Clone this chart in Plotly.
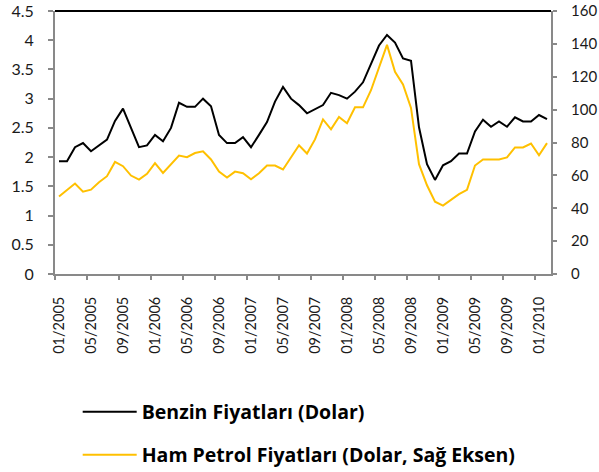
import plotly.graph_objects as go

months = [f"{m:02d}/{y}" for y in range(2005, 2011) for m in range(1, 13)][:62]

benzin = [1.93, 1.93, 2.17, 2.24, 2.10, 2.20, 2.30, 2.62, 2.83, 2.50,
          2.17, 2.20, 2.38, 2.27, 2.50, 2.93, 2.86, 2.86, 3.00, 2.87,
          2.38, 2.24, 2.24, 2.34, 2.17, 2.38, 2.60, 2.95, 3.20, 3.00,
          2.89, 2.75, 2.82, 2.89, 3.10, 3.06, 3.00, 3.12, 3.28, 3.58,
          3.91, 4.09, 3.96, 3.69, 3.65, 2.51, 1.88, 1.61, 1.86, 1.93,
          2.06, 2.06, 2.44, 2.64, 2.52, 2.61, 2.52, 2.68, 2.61, 2.61,
          2.72, 2.65]

petrol = [47.2, 51.3, 55.0, 50.1, 51.3, 55.8, 59.5, 68.2, 65.6, 59.9,
          57.4, 60.9, 67.4, 61.5, 66.6, 72.1, 71.1, 73.6, 74.6, 69.7,
          62.3, 58.7, 62.3, 61.3, 57.6, 61.3, 66.0, 66.0, 63.6, 70.7,
          78.3, 73.3, 81.9, 94.0, 88.0, 95.6, 91.7, 101.4, 101.4, 111.8,
          125.9, 139.4, 123.0, 115.3, 101.0, 66.8, 54.0, 44.0, 41.6, 45.2,
          48.6, 51.2, 66.0, 69.7, 69.7, 69.7, 70.9, 77.0, 77.0, 79.4,
          72.2, 79.6]

left_ticks = [0, 0.5, 1, 1.5, 2, 2.5, 3, 3.5, 4, 4.5]
left_labels = ["0", "0.5", "1", "1.5", "2", "2.5", "3", "3.5", "4", "4.5"]
right_ticks = [0, 20, 40, 60, 80, 100, 120, 140, 160]

idx = list(range(len(months)))
label_idx = idx[::4]
label_text = [months[i] for i in label_idx]

AX = "#898989"
FONT = "Lato"
LEGFONT = dict(family="Open Sans", size=19.5, color="#000000", weight="bold")

fig = go.Figure()
fig.add_trace(go.Scatter(x=idx, y=benzin, mode="lines", name="Benzin Fiyatları (Dolar)",
                         line=dict(color="#000000", width=2), legend="legend"))
fig.add_trace(go.Scatter(x=idx, y=petrol, mode="lines", name="Ham Petrol Fiyatları (Dolar, Sağ Eksen)",
                         line=dict(color="#FFC000", width=2), yaxis="y2", legend="legend2"))

fig.update_layout(
    width=599, height=472,
    margin=dict(l=55, r=48, t=11, b=198, autoexpand=False),
    paper_bgcolor="white", plot_bgcolor="white",
    font=dict(family=FONT, size=16, color="#1a1a1a"),
    xaxis=dict(range=[-0.5, 61.5], tickmode="array", tickvals=label_idx, ticktext=label_text,
               tickangle=-90, ticks="", showgrid=False, zeroline=False,
               showline=True, linecolor=AX, linewidth=2, ticklabelstandoff=15,
               minor=dict(tickmode="linear", tick0=-0.5, dtick=4, ticks="outside",
                          ticklen=4, tickcolor=AX, tickwidth=1.5, showgrid=False),
               tickfont=dict(size=14.5)),
    yaxis=dict(range=[0, 4.5], tickmode="array", tickvals=left_ticks, ticktext=left_labels,
               showgrid=False, zeroline=False, showline=True, linecolor=AX, linewidth=2,
               ticks="outside", ticklen=5, tickcolor=AX, tickwidth=1.5,
               ticklabelstandoff=11, tickfont=dict(size=16)),
    yaxis2=dict(range=[0, 160], tickmode="array", tickvals=right_ticks, overlaying="y", side="right",
                showgrid=False, zeroline=False, showline=True, linecolor=AX, linewidth=2,
                ticks="outside", ticklen=4, tickcolor=AX, tickwidth=1.5,
                ticklabelstandoff=11, tickfont=dict(size=15)),
    legend=dict(xref="container", yref="container", x=0.1297, y=1 - 412 / 472,
                xanchor="left", yanchor="middle", itemwidth=54,
                font=LEGFONT, bgcolor="rgba(0,0,0,0)"),
    legend2=dict(xref="container", yref="container", x=0.1297, y=1 - 455 / 472,
                 xanchor="left", yanchor="middle", itemwidth=54,
                 font=LEGFONT, bgcolor="rgba(0,0,0,0)"),
    showlegend=True,
    shapes=[dict(type="line", xref="paper", yref="paper", x0=0, x1=1, y0=1, y1=1,
                 line=dict(color="#000000", width=2))],
)

fig.write_html("out.html", config={"displayModeBar": False},
               post_script="document.body.style.margin='0';document.body.style.overflow='hidden';")
